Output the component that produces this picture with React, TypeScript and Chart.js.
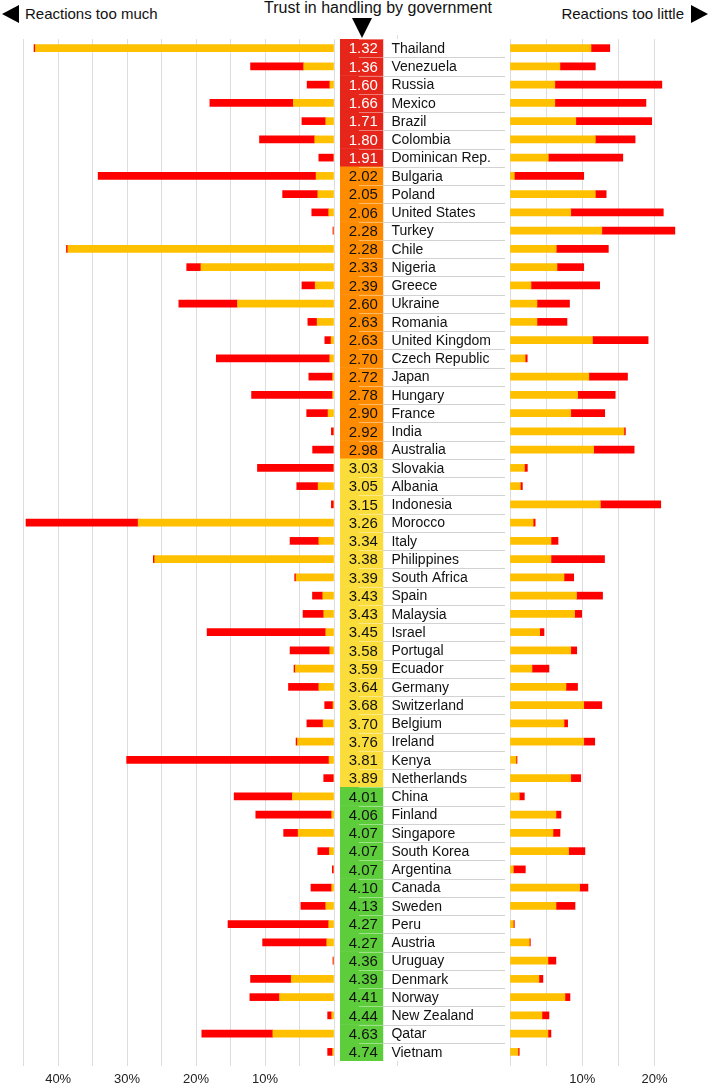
import React, { useEffect, useRef } from "react";
import { Chart, registerables } from "chart.js";

Chart.register(...registerables);

// ---------- data ----------
const countries = [
  "Thailand", "Venezuela", "Russia", "Mexico", "Brazil", "Colombia", "Dominican Rep.",
  "Bulgaria", "Poland", "United States", "Turkey", "Chile", "Nigeria", "Greece",
  "Ukraine", "Romania", "United Kingdom", "Czech Republic", "Japan", "Hungary", "France",
  "India", "Australia", "Slovakia", "Albania", "Indonesia", "Morocco", "Italy",
  "Philippines", "South Africa", "Spain", "Malaysia", "Israel", "Portugal", "Ecuador",
  "Germany", "Switzerland", "Belgium", "Ireland", "Kenya", "Netherlands", "China",
  "Finland", "Singapore", "South Korea", "Argentina", "Canada", "Sweden", "Peru",
  "Austria", "Uruguay", "Denmark", "Norway", "New Zealand", "Qatar", "Vietnam",
];

const trustScores = [
  1.32, 1.36, 1.6, 1.66, 1.71, 1.8, 1.91,
  2.02, 2.05, 2.06, 2.28, 2.28, 2.33, 2.39,
  2.6, 2.63, 2.63, 2.7, 2.72, 2.78, 2.9,
  2.92, 2.98, 3.03, 3.05, 3.15, 3.26, 3.34,
  3.38, 3.39, 3.43, 3.43, 3.45, 3.58, 3.59,
  3.64, 3.68, 3.7, 3.76, 3.81, 3.89, 4.01,
  4.06, 4.07, 4.07, 4.07, 4.1, 4.13, 4.27,
  4.27, 4.36, 4.39, 4.41, 4.44, 4.63, 4.74,
];

// "Reactions too much" (left side), % of respondents
const tooMuchYellow = [
  43.3, 4.4, 0.6, 5.9, 1.2, 2.8, 0,
  2.6, 2.35, 0.77, 0, 38.6, 19.3, 2.73,
  14.0, 2.45, 0.43, 0.62, 0.2, 0.2, 0.86,
  0, 0, 0, 2.3, 0, 28.4, 2.2,
  26.0, 5.5, 1.63, 1.49, 1.2, 0.62, 5.6,
  2.2, 0.15, 1.58, 5.3, 0.72, 0, 6.04,
  0.34, 5.2, 0.67, 0, 0.34, 1.2, 0.77,
  1.05, 0, 6.2, 7.9, 0.34, 8.87, 0.2,
];
const tooMuchRed = [
  0.2, 7.7, 3.3, 12.1, 3.45, 8.0, 2.2,
  31.6, 5.1, 2.45, 0.15, 0.2, 2.06, 1.92,
  8.5, 1.34, 0.9, 16.45, 3.45, 11.75, 3.1,
  0.38, 3.1, 11.1, 3.1, 0.38, 16.26, 4.17,
  0.2, 0.2, 1.49, 3.0, 17.2, 5.75, 0.2,
  4.4, 1.2, 2.35, 0.2, 29.35, 1.49, 8.44,
  11.0, 2.1, 1.68, 0.24, 3.0, 3.6, 14.6,
  9.3, 0.15, 5.9, 4.3, 0.58, 10.3, 0.72,
];

// "Reactions too little" (right side), % of respondents
const tooLittleYellow = [
  11.2, 6.9, 6.2, 6.2, 9.1, 11.8, 5.3,
  0.6, 11.8, 8.4, 12.7, 6.4, 6.5, 2.9,
  3.73, 3.73, 11.4, 2.1, 10.9, 9.35, 8.4,
  15.76, 11.57, 2.0, 1.43, 12.5, 3.2, 5.67,
  5.67, 7.47, 9.2, 8.94, 4.1, 8.4, 3.04,
  7.74, 10.2, 7.47, 10.2, 0.83, 8.4, 1.29,
  6.36, 5.94, 8.1, 0.46, 9.63, 6.36, 0.46,
  2.67, 5.25, 4.0, 7.6, 4.42, 5.25, 1.1,
];
const tooLittleRed = [
  2.6, 4.9, 14.8, 12.6, 10.5, 5.5, 10.3,
  9.6, 1.5, 12.8, 10.1, 7.2, 3.7, 9.5,
  4.5, 4.15, 7.7, 0.28, 5.35, 5.2, 4.7,
  0.2, 5.6, 0.4, 0.28, 8.35, 0.28, 0.97,
  7.4, 1.34, 3.6, 0.97, 0.6, 0.83, 2.35,
  1.6, 2.5, 0.5, 1.52, 0.14, 1.38, 0.69,
  0.69, 0.97, 2.26, 1.66, 1.15, 2.63, 0.14,
  0.14, 1.1, 0.55, 0.69, 0.97, 0.41, 0.18,
];

const leftGridValues = [0, 5, 10, 15, 20, 25, 30, 35, 40, 45];
const rightGridValues = [0, 5, 10, 15, 20];
const tickLabelValues = [10, 20, 30, 40];

// ---------- styles ----------
const FONT = "'Liberation Sans', Arial, Helvetica, sans-serif";
const BAR_YELLOW = "#FFC000";
const BAR_RED = "#FF0000";
const GRID = "#dddddd";
const CELL_END = 0.26; // fraction of the middle table width used by the score cell

function scoreColor(s: number): string {
  if (s < 2) return "#E6261B";
  if (s < 3) return "#FF8C00";
  if (s < 4) return "#FADC3A";
  return "#5DCD3B";
}

function sideConfig(isLeft: boolean): any {
  const yellow = isLeft ? tooMuchYellow : tooLittleYellow;
  const red = isLeft ? tooMuchRed : tooLittleRed;
  const grid = isLeft ? leftGridValues : rightGridValues;
  return {
    type: "bar",
    data: {
      labels: countries,
      datasets: [
        { label: "yellow", data: yellow, backgroundColor: BAR_YELLOW, barThickness: 7, borderWidth: 0 },
        { label: "red", data: red, backgroundColor: BAR_RED, barThickness: 7, borderWidth: 0 },
      ],
    },
    options: {
      indexAxis: "y",
      responsive: false,
      animation: false,
      devicePixelRatio: 1,
      layout: {
        padding: isLeft
          ? { top: 39, left: 3, right: 6, bottom: 0 }
          : { top: 39, left: 5, right: 11, bottom: 0 },
      },
      plugins: { legend: { display: false }, tooltip: { enabled: false } },
      scales: {
        x: {
          stacked: true,
          reverse: isLeft,
          min: 0,
          max: isLeft ? 48 : 26,
          afterBuildTicks: (s: any) => {
            s.ticks = grid.map((v) => ({ value: v }));
          },
          afterFit: (s: any) => {
            s.height = 25;
            s.paddingLeft = 0;
            s.paddingRight = 0;
          },
          grid: { color: GRID, lineWidth: 1, drawTicks: true, tickLength: 5, tickColor: GRID },
          border: { display: false },
          ticks: {
            padding: 6,
            autoSkip: false,
            maxRotation: 0,
            color: "#222",
            font: { family: FONT, size: 13 },
            callback: (v: any) => (tickLabelValues.includes(Number(v)) ? `${v}%` : ""),
          },
        },
        y: { stacked: true, display: false },
      },
    },
  };
}

const tablePlugin = {
  id: "trustTable",
  beforeDatasetsDraw(chart: any) {
    const { ctx, chartArea } = chart;
    const gx = Math.round(chartArea.left + 57) + 0.5;
    ctx.save();
    ctx.strokeStyle = GRID;
    ctx.lineWidth = 1;
    ctx.beginPath();
    ctx.moveTo(gx, chartArea.top - 4);
    ctx.lineTo(gx, chartArea.top);
    ctx.moveTo(gx, chartArea.bottom);
    ctx.lineTo(gx, chartArea.bottom + 5);
    ctx.stroke();
    ctx.restore();
  },
  afterDatasetsDraw(chart: any) {
    const { ctx, chartArea } = chart;
    const ys = chart.scales.y;
    const xs = chart.scales.x;
    const cellR = xs.getPixelForValue(CELL_END);
    const step = ys.getPixelForValue(1) - ys.getPixelForValue(0);
    ctx.save();
    ctx.lineWidth = 1;
    for (let i = 0; i < countries.length; i++) {
      const yy = Math.round(ys.getPixelForValue(i) - step / 2) + 0.5;
      ctx.strokeStyle = "rgba(255,255,255,0.4)";
      ctx.beginPath();
      ctx.moveTo(cellR - 24, yy);
      ctx.lineTo(cellR, yy);
      ctx.stroke();
      if (i > 0) {
        ctx.strokeStyle = "#d2d2d2";
        ctx.beginPath();
        ctx.moveTo(cellR, yy);
        ctx.lineTo(chartArea.right, yy);
        ctx.stroke();
      }
    }
    ctx.textBaseline = "middle";
    for (let i = 0; i < countries.length; i++) {
      const cy = ys.getPixelForValue(i) + 1;
      ctx.font = `15px ${FONT}`;
      ctx.textAlign = "right";
      ctx.fillStyle = trustScores[i] < 2 ? "#ffffff" : "#111111";
      ctx.fillText(trustScores[i].toFixed(2), cellR - 5, cy);
      ctx.font = `14px ${FONT}`;
      ctx.textAlign = "left";
      ctx.fillStyle = "#111111";
      ctx.fillText(countries[i], cellR + 8.5, cy);
    }
    ctx.restore();
  },
};

function middleConfig(): any {
  return {
    type: "bar",
    data: {
      labels: countries,
      datasets: [
        {
          label: "trust",
          data: countries.map(() => [0, CELL_END]),
          backgroundColor: trustScores.map(scoreColor),
          barPercentage: 1,
          categoryPercentage: 1,
          borderWidth: 0,
        },
      ],
    },
    options: {
      indexAxis: "y",
      responsive: false,
      animation: false,
      devicePixelRatio: 1,
      layout: { padding: { top: 39, bottom: 25, left: 2, right: 3 } },
      plugins: { legend: { display: false }, tooltip: { enabled: false } },
      scales: {
        x: { display: false, min: 0, max: 1 },
        y: { display: false },
      },
    },
    plugins: [tablePlugin],
  };
}

export default function App() {
  const leftRef = useRef<HTMLCanvasElement>(null);
  const midRef = useRef<HTMLCanvasElement>(null);
  const rightRef = useRef<HTMLCanvasElement>(null);

  useEffect(() => {
    const charts: Chart[] = [];
    if (leftRef.current) charts.push(new Chart(leftRef.current, sideConfig(true)));
    if (midRef.current) charts.push(new Chart(midRef.current, middleConfig()));
    if (rightRef.current) charts.push(new Chart(rightRef.current, sideConfig(false)));
    return () => charts.forEach((c) => c.destroy());
  }, []);

  const text: React.CSSProperties = {
    position: "absolute",
    fontFamily: FONT,
    fontSize: 15,
    lineHeight: "18px",
    color: "#111",
    whiteSpace: "nowrap",
  };

  return (
    <div style={{ position: "absolute", left: 0, top: 0, width: 709, height: 1086, background: "#fff", overflow: "hidden" }}>
      <div style={{ position: "absolute", left: 2, top: 5, width: 0, height: 0, borderTop: "9.5px solid transparent", borderBottom: "9.5px solid transparent", borderRight: "17px solid #000" }} />
      <div style={{ ...text, left: 25, top: 5 }}>Reactions too much</div>
      <div style={{ ...text, left: 178, width: 400, textAlign: "center", top: -1, fontSize: 16 }}>Trust in handling by government</div>
      <div style={{ position: "absolute", left: 352, top: 18, width: 0, height: 0, borderLeft: "10.5px solid transparent", borderRight: "10.5px solid transparent", borderTop: "20px solid #000" }} />
      <div style={{ ...text, right: 25, top: 5, textAlign: "right" }}>Reactions too little</div>
      <div style={{ position: "absolute", left: 691, top: 5, width: 0, height: 0, borderTop: "9.5px solid transparent", borderBottom: "9.5px solid transparent", borderLeft: "17px solid #000" }} />
      <canvas ref={leftRef} width={340} height={1086} style={{ position: "absolute", left: 0, top: 0, width: 340, height: 1086 }} />
      <canvas ref={midRef} width={170} height={1086} style={{ position: "absolute", left: 338, top: 0, width: 170, height: 1086 }} />
      <canvas ref={rightRef} width={204} height={1086} style={{ position: "absolute", left: 505, top: 0, width: 204, height: 1086 }} />
    </div>
  );
}
